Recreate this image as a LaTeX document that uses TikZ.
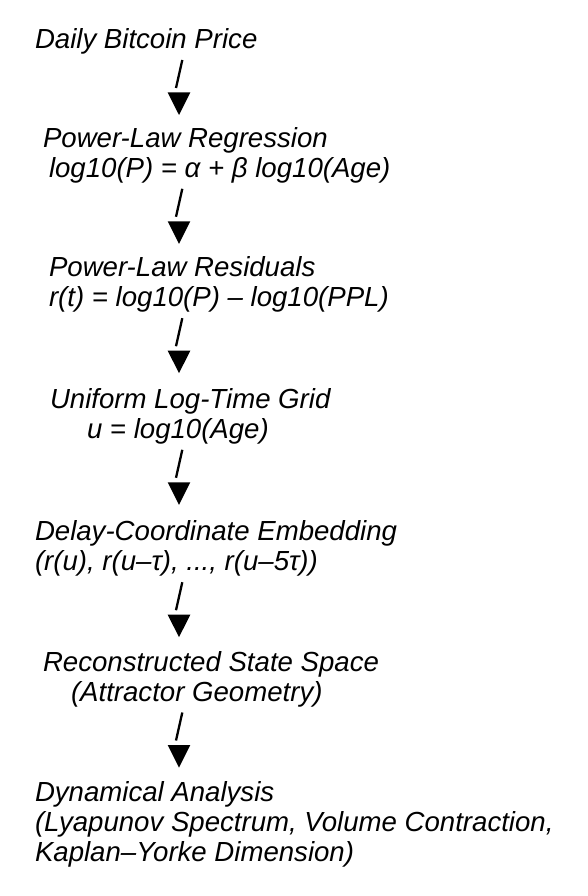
\documentclass[tikz,border=0pt]{standalone}
\usepackage{fontspec}
\setmainfont{Liberation Sans}
\begin{document}
\begin{tikzpicture}[x=1pt,y=-1pt,
  txt/.style={anchor=base west,inner sep=0pt,outer sep=0pt,font=\fontsize{27.6}{30}\selectfont\itshape},
  barline/.style={line width=2.3pt},
  tip/.style={fill=black}]
\useasboundingbox (0,0) rectangle (588,896);
% text lines
\node[txt] (a1) at (35,48.5) {Daily Bitcoin Price};
\node[txt] (b1) at (43,147.3) {Power-Law Regression};
\node[txt] (b2) at (49,177.3) {log10(P) = α + β log10(Age)};
\node[txt] (c1) at (49,276.7) {Power-Law Residuals};
\node[txt] (c2) at (49,306.7) {r(t) = log10(P) – log10(PPL)};
\node[txt] (d1) at (50,408.3) {Uniform Log-Time Grid};
\node[txt] (d2) at (87,438.3) {u = log10(Age)};
\node[txt] (e1) at (35,540.7) {Delay-Coordinate Embedding};
\node[txt] (e2) at (35,570.7) {(r(u), r(u–τ), ..., r(u–5τ))};
\node[txt] (f1) at (43,671) {Reconstructed State Space};
\node[txt] (f2) at (71,701) {(Attractor Geometry)};
\node[txt] (g1) at (35,801.7) {Dynamical Analysis};
\node[txt] (g2) at (35,831.7) {(Lyapunov Spectrum, Volume Contraction,};
\node[txt] (g3) at (35,861.7) {Kaplan–Yorke Dimension)};
% arrows
\foreach \n/\B in {1/48.5,2/177.3,3/306.7,4/438.3,5/570.7,6/701}{
  \coordinate (t\n) at (182.3,\B+11.5);
  \coordinate (s\n) at (176,\B+39.5);
  \coordinate (h\n) at (179,\B+66.5);
  \draw[barline] (t\n) -- (s\n);
  \fill[tip] (h\n) -- ++(-11.3,-22.5) -- ++(22.6,0) -- cycle;
}
\end{tikzpicture}
\end{document}
